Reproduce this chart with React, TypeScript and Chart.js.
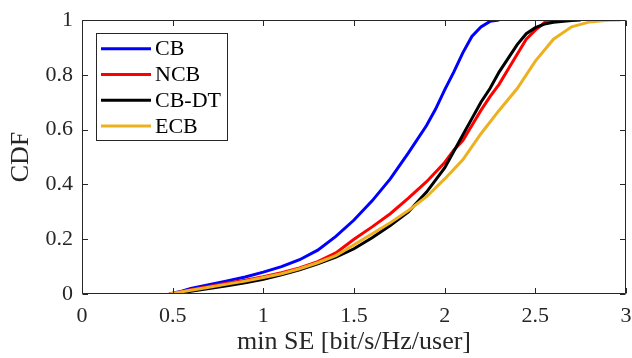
import React, { useEffect, useRef } from "react";
import { Chart, registerables } from "chart.js";

Chart.register(...registerables);

// ---- data ----
const seriesLabels = ["CB", "NCB", "CB-DT", "ECB"];
const seriesColors = ["#0000FF", "#FF0000", "#000000", "#EDB120"];

const cbX = [0.48, 0.55, 0.6, 0.7, 0.8, 0.9, 1.0, 1.1, 1.2, 1.3, 1.4, 1.5, 1.6, 1.7, 1.8, 1.9, 1.95, 2.0, 2.05, 2.1, 2.15, 2.2, 2.25, 2.3];
const cbY = [0, 0.01, 0.02, 0.034, 0.048, 0.062, 0.08, 0.1, 0.125, 0.16, 0.21, 0.27, 0.34, 0.42, 0.515, 0.615, 0.675, 0.745, 0.81, 0.88, 0.94, 0.975, 0.995, 1.0];

const ncbX = [0.49, 0.6, 0.7, 0.8, 0.9, 1.0, 1.1, 1.2, 1.3, 1.4, 1.5, 1.6, 1.7, 1.8, 1.9, 2.0, 2.05, 2.1, 2.15, 2.2, 2.25, 2.3, 2.35, 2.4, 2.45, 2.5, 2.55, 2.6, 2.65];
const ncbY = [0, 0.016, 0.027, 0.039, 0.05, 0.063, 0.078, 0.095, 0.118, 0.15, 0.2, 0.245, 0.293, 0.35, 0.41, 0.48, 0.525, 0.56, 0.615, 0.67, 0.72, 0.765, 0.82, 0.875, 0.93, 0.963, 0.99, 0.998, 1.0];

const cbdtX = [0.5, 0.6, 0.7, 0.8, 0.9, 1.0, 1.1, 1.2, 1.3, 1.4, 1.5, 1.6, 1.7, 1.8, 1.9, 2.0, 2.05, 2.1, 2.15, 2.2, 2.25, 2.3, 2.35, 2.4, 2.45, 2.5, 2.55, 2.6, 2.7, 2.75];
const cbdtY = [0, 0.01, 0.02, 0.03, 0.041, 0.054, 0.07, 0.088, 0.11, 0.135, 0.165, 0.205, 0.25, 0.3, 0.372, 0.46, 0.52, 0.58, 0.64, 0.7, 0.75, 0.81, 0.86, 0.91, 0.95, 0.972, 0.985, 0.992, 0.998, 1.0];

const ecbX = [0.48, 0.6, 0.7, 0.8, 0.9, 1.0, 1.1, 1.2, 1.3, 1.4, 1.5, 1.6, 1.7, 1.8, 1.9, 2.0, 2.1, 2.2, 2.3, 2.4, 2.5, 2.6, 2.7, 2.8, 2.9, 2.97];
const ecbY = [0, 0.014, 0.025, 0.036, 0.047, 0.06, 0.074, 0.092, 0.114, 0.14, 0.18, 0.22, 0.26, 0.305, 0.355, 0.42, 0.49, 0.585, 0.67, 0.75, 0.85, 0.93, 0.975, 0.993, 0.999, 1.0];

const seriesX = [cbX, ncbX, cbdtX, ecbX];
const seriesY = [cbY, ncbY, cbdtY, ecbY];

const xTickValues = [0, 0.5, 1, 1.5, 2, 2.5, 3];
const yTickValues = [0, 0.2, 0.4, 0.6, 0.8, 1];
const xAxisTitle = "min SE [bit/s/Hz/user]";
const yAxisTitle = "CDF";

const FONT = "'Liberation Serif', 'Times New Roman', serif";
const AXIS_COLOR = "#262626";

const boxPlugin = {
  id: "matlabBox",
  afterDatasetsDraw(chart: any) {
    const { ctx, chartArea: a, scales } = chart;
    ctx.save();
    ctx.strokeStyle = AXIS_COLOR;
    ctx.lineWidth = 1;
    const L = Math.round(a.left) + 0.5;
    const R = Math.round(a.right) - 0.5;
    const T = Math.round(a.top) + 0.5;
    const B = Math.round(a.bottom) - 0.5;
    const tl = 5.5;
    ctx.beginPath();
    ctx.rect(L, T, R - L, B - T);
    scales.x.ticks.forEach((t: any) => {
      const px = Math.round(scales.x.getPixelForValue(t.value)) + 0.5;
      ctx.moveTo(px, B);
      ctx.lineTo(px, B - tl);
      ctx.moveTo(px, T);
      ctx.lineTo(px, T + tl);
    });
    scales.y.ticks.forEach((t: any) => {
      const py = Math.round(scales.y.getPixelForValue(t.value)) + 0.5;
      ctx.moveTo(L, py);
      ctx.lineTo(L + tl, py);
      ctx.moveTo(R, py);
      ctx.lineTo(R - tl, py);
    });
    ctx.stroke();

    // legend box (MATLAB-style, inside the axes, north-west)
    const lx = Math.round(a.left) + 14.5;
    const ly = Math.round(a.top) + 13.5;
    const lw = 131;
    const lh = 107;
    ctx.fillStyle = "#ffffff";
    ctx.fillRect(lx, ly, lw, lh);
    ctx.strokeStyle = AXIS_COLOR;
    ctx.lineWidth = 1;
    ctx.strokeRect(lx, ly, lw, lh);
    ctx.font = `22px ${FONT}`;
    ctx.textBaseline = "middle";
    ctx.textAlign = "left";
    chart.data.datasets.forEach((ds: any, i: number) => {
      const ry = ly + 15.2 + i * 25.8;
      ctx.strokeStyle = ds.borderColor;
      ctx.lineWidth = 3;
      ctx.beginPath();
      ctx.moveTo(lx + 4.5, ry);
      ctx.lineTo(lx + 54.5, ry);
      ctx.stroke();
      ctx.fillStyle = "#000000";
      ctx.fillText(ds.label, lx + 58.5, ry + 1);
    });
    ctx.restore();
  },
};

const zeroPad = (s: any) => {
  s.paddingLeft = 0;
  s.paddingRight = 0;
  s.paddingTop = 0;
  s.paddingBottom = 0;
};

export default function App() {
  const ref = useRef<HTMLCanvasElement | null>(null);

  useEffect(() => {
    if (!ref.current) return;
    const datasets = seriesLabels.map((label, i) => ({
      label,
      data: seriesX[i].map((x, j) => ({ x, y: seriesY[i][j] })),
      borderColor: seriesColors[i],
      backgroundColor: seriesColors[i],
      borderWidth: 3,
      pointRadius: 0,
      tension: 0,
      fill: false,
      order: seriesLabels.length - i,
    }));

    const chart = new Chart(ref.current, {
      type: "line",
      data: { datasets },
      options: {
        animation: false,
        responsive: false,
        devicePixelRatio: 1,
        layout: { padding: { top: 20, right: 6, left: 0, bottom: 0 } },
        plugins: {
          legend: { display: false },
          tooltip: { enabled: false },
        },
        scales: {
          x: {
            type: "linear",
            min: 0,
            max: 3,
            afterBuildTicks: (s: any) => {
              s.ticks = xTickValues.map((v) => ({ value: v }));
            },
            afterFit: (s: any) => {
              s.height = 64;
              zeroPad(s);
            },
            grid: { display: false, drawTicks: false },
            border: { display: false },
            ticks: {
              padding: 9,
              color: AXIS_COLOR,
              font: { family: FONT, size: 22 },
              maxRotation: 0,
              autoSkip: false,
              callback: (v: any) => String(v),
            },
            title: {
              display: true,
              text: xAxisTitle,
              color: AXIS_COLOR,
              font: { family: FONT, size: 26 },
              padding: { top: 0, bottom: 0 },
            },
          },
          y: {
            type: "linear",
            min: 0,
            max: 1,
            afterBuildTicks: (s: any) => {
              s.ticks = yTickValues.map((v) => ({ value: v }));
            },
            afterFit: (s: any) => {
              s.width = 82;
              zeroPad(s);
            },
            grid: { display: false, drawTicks: false },
            border: { display: false },
            ticks: {
              padding: 9,
              color: AXIS_COLOR,
              font: { family: FONT, size: 22 },
              autoSkip: false,
              callback: (v: any) => String(v),
            },
            title: {
              display: true,
              text: yAxisTitle,
              color: AXIS_COLOR,
              font: { family: FONT, size: 26 },
              padding: { top: 6, bottom: 0 },
            },
          },
        },
      },
      plugins: [boxPlugin],
    });
    return () => chart.destroy();
  }, []);

  return (
    <div style={{ position: "absolute", left: 0, top: 0, width: 632, height: 358, background: "#fff" }}>
      <canvas ref={ref} width={632} height={358} style={{ display: "block" }} />
    </div>
  );
}
